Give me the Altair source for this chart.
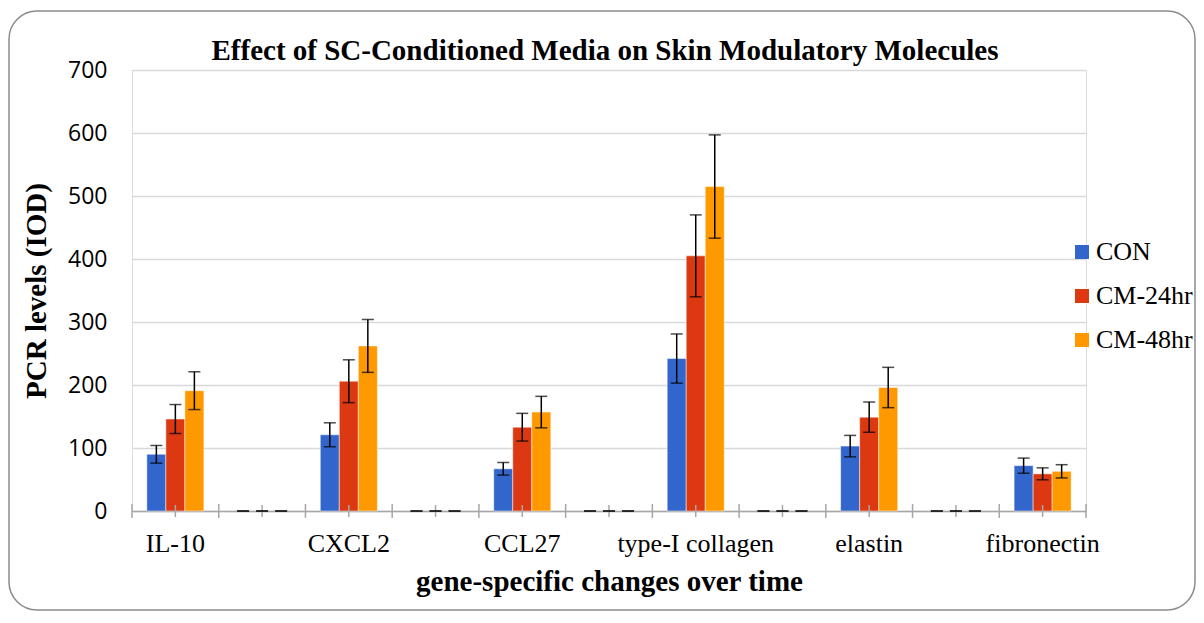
import altair as alt
import pandas as pd

genes = ["IL-10", "CXCL2", "CCL27", "type-I collagen", "elastin", "fibronectin"]
series = ["CON", "CM-24hr", "CM-48hr"]
con = [90, 121, 67, 242, 103, 72]
con_err = [14, 19, 10, 39, 17, 12]
cm24 = [146, 206, 133, 405, 149, 59]
cm24_err = [23, 34, 22, 65, 24, 9.5]
cm48 = [191, 262, 157, 515, 196, 63]
cm48_err = [30, 42, 25, 82, 32, 10.5]
colors = ["#3366cc", "#dc3912", "#ff9900"]
title_text = "Effect of SC-Conditioned Media on Skin Modulatory Molecules"

# Excel-style layout: an empty category between each gene
cats = []
for i, g in enumerate(genes):
    cats.append(g)
    if i < len(genes) - 1:
        cats.append(f"gap{i+1}")

vals = {"CON": (con, con_err), "CM-24hr": (cm24, cm24_err), "CM-48hr": (cm48, cm48_err)}
rows = []
for c in cats:
    for s in series:
        if c in genes:
            k = genes.index(c)
            v, e = vals[s][0][k], vals[s][1][k]
        else:
            v, e = 0, 0
        rows.append({"cat": c, "series": s, "value": v, "lo": v - e, "hi": v + e})
df = pd.DataFrame(rows)
cat_df = pd.DataFrame({"cat": cats, "last": [i == len(cats) - 1 for i in range(len(cats))]})

W, H = 954, 441
xscale = alt.Scale(paddingInner=0, paddingOuter=0)
xoff = alt.XOffset("series:N", sort=series, scale=alt.Scale(paddingInner=0, paddingOuter=0.78))
yscale = alt.Scale(domain=[0, 700])
serif = "Liberation Serif"

xaxis = alt.Axis(
    title="gene-specific changes over time", titleFont=serif, titleFontSize=29,
    titleFontWeight="bold", titleColor="black", titlePadding=11,
    labelAngle=0, labelFont=serif, labelFontSize=26, labelColor="black",
    labelPadding=19, ticks=False, tickSize=0, grid=False,
    domainColor="#a6a6a6", domainWidth=1.5,
    labelExpr="indexof(datum.label, 'gap') == 0 ? '' : datum.label",
)
yaxis = alt.Axis(
    title="PCR levels (IOD)", titleFont=serif, titleFontSize=29, titleFontWeight="bold",
    titleColor="black", titlePadding=16, values=list(range(0, 701, 100)),
    labelFont="Open Sans", labelFontSize=23, labelColor="black", labelPadding=25,
    domain=False, ticks=False, grid=True, gridColor="#d9d9d9", gridWidth=1.3,
)

base = alt.Chart(df)
bars = base.transform_filter("datum.value > 0").mark_bar(
    stroke="white", strokeWidth=0.8, strokeOpacity=0.6
).encode(
    x=alt.X("cat:N", sort=cats, scale=xscale, axis=xaxis),
    xOffset=xoff,
    y=alt.Y("value:Q", scale=yscale, axis=yaxis),
    color=alt.Color(
        "series:N", sort=series, scale=alt.Scale(domain=series, range=colors),
        legend=alt.Legend(
            orient="none", legendX=937, legendY=169, title=None,
            labelFont=serif, labelFontSize=26, labelColor="black",
            symbolType="square", symbolSize=196, symbolStrokeWidth=0,
            rowPadding=18, labelOffset=1,
        ),
    ),
)
err = base.mark_rule(color="black", strokeWidth=1.5).encode(
    x=alt.X("cat:N", sort=cats), xOffset=xoff,
    y=alt.Y("lo:Q", scale=yscale), y2="hi:Q",
)
cap_lo = base.mark_tick(color="black", thickness=1.5, size=12, orient="horizontal").encode(
    x=alt.X("cat:N", sort=cats), xOffset=xoff, y=alt.Y("lo:Q", scale=yscale),
)
cap_hi = base.mark_tick(color="black", thickness=1.5, size=12, orient="horizontal").encode(
    x=alt.X("cat:N", sort=cats), xOffset=xoff, y=alt.Y("hi:Q", scale=yscale),
)

tick_style = dict(color="#a6a6a6", strokeWidth=1.5)
tk = alt.Chart(cat_df)
ticks_edge = tk.mark_rule(**tick_style).encode(
    x=alt.X("cat:N", sort=cats, bandPosition=0), y=alt.value(H - 7), y2=alt.value(H + 7)
)
ticks_end = tk.transform_filter("datum.last").mark_rule(**tick_style).encode(
    x=alt.X("cat:N", sort=cats, bandPosition=1), y=alt.value(H - 7), y2=alt.value(H + 7)
)
ticks_mid = tk.mark_rule(**tick_style).encode(
    x=alt.X("cat:N", sort=cats, bandPosition=0.5), y=alt.value(H - 6), y2=alt.value(H + 6)
)

frame = alt.Chart(pd.DataFrame({"a": [0]})).mark_rect(
    fill="transparent", stroke="#8c8c8c", strokeWidth=1.5, cornerRadius=28
).encode(
    x=alt.value(-123), x2=alt.value(1063), y=alt.value(-59), y2=alt.value(540)
)

title = alt.Chart(pd.DataFrame({"t": [title_text]})).mark_text(
    font=serif, fontSize=29, fontWeight="bold", color="black",
    align="center", baseline="alphabetic",
).encode(text="t:N", x=alt.value(473), y=alt.value(-10))

chart = alt.layer(
    frame, bars, ticks_edge, ticks_end, ticks_mid, err, cap_lo, cap_hi, title
).properties(
    width=W, height=H,
    autosize=alt.AutoSizeParams(type="none"),
    padding={"left": 124, "top": 62, "right": 110, "bottom": 100},
).configure_view(stroke=None).configure(background="white")

chart.save("out.html", embed_options={"renderer": "svg", "actions": False})
